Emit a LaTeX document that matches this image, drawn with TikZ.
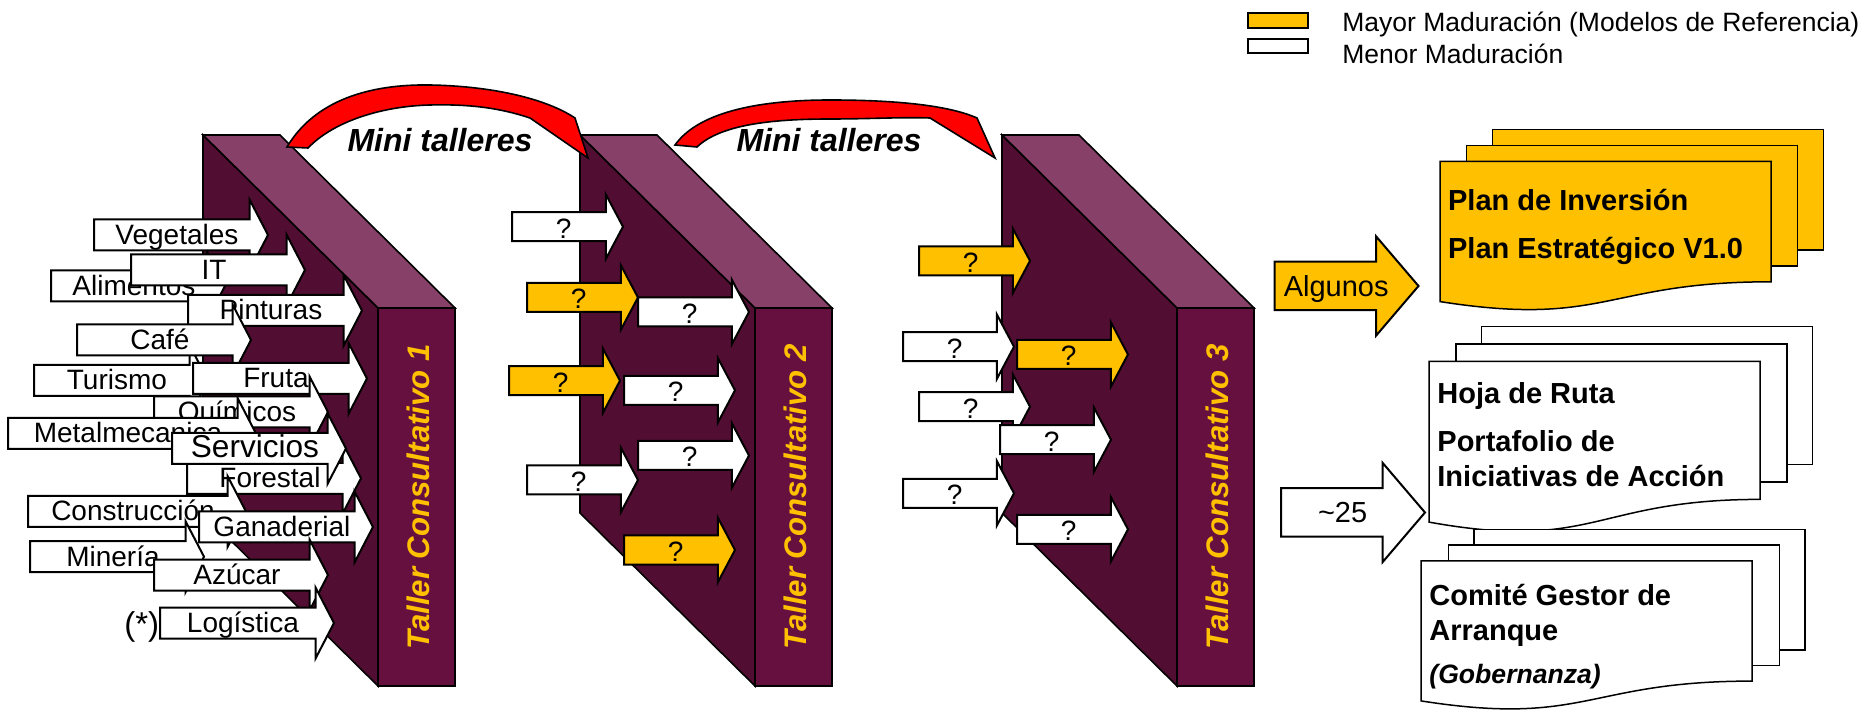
\documentclass[tikz,border=0pt]{standalone}
\usepackage{fontspec}
\setmainfont{Liberation Sans}
\usetikzlibrary{shapes.arrows}
\definecolor{GoldClr}{HTML}{FFC000}
\definecolor{WallSide}{HTML}{520E32}
\definecolor{WallTop}{HTML}{874068}
\definecolor{WallFront}{HTML}{661040}
\definecolor{ArcClr}{HTML}{FF0000}

\begin{document}
\begin{tikzpicture}[x=0.5pt,y=-0.5pt,
  wallline/.style={draw=black,line width=0.8pt},
  wallname/.style={rotate=90,text=GoldClr,font=\fontsize{15.6pt}{18pt}\selectfont\bfseries\itshape},
  sector/.style={single arrow,draw=black,line width=1pt,fill=white,anchor=tail,
    inner xsep=0pt,inner ysep=0.5pt,text height=11.5pt,text depth=2pt,
    single arrow head extend=10pt,single arrow tip angle=125,minimum height=87pt,
    font=\fontsize{14pt}{16pt}\selectfont},
  quest/.style={single arrow,draw=black,line width=1pt,anchor=tail,
    inner xsep=0pt,inner ysep=0.5pt,text height=12pt,text depth=0.5pt,
    single arrow head extend=8.75pt,single arrow tip angle=124,minimum height=55.5pt,
    font=\fontsize{14pt}{16pt}\selectfont},
  bigarrow/.style={single arrow,draw=black,line width=1pt,anchor=tail,
    inner xsep=0pt,inner ysep=3.4pt,text height=13.45pt,text depth=3pt,
    single arrow head extend=12.75pt,single arrow tip angle=99,minimum height=72pt,
    font=\fontsize{14.5pt}{17pt}\selectfont},
  arcarrow/.style={fill=ArcClr,draw=black,line width=0.8pt},
  docpage/.style={draw=black,line width=0.75pt},
  doctext/.style={anchor=base west,inner sep=0pt,font=\fontsize{14.5pt}{17pt}\selectfont\bfseries},
  mini/.style={anchor=base,inner sep=0pt,font=\fontsize{16pt}{18pt}\selectfont\bfseries\itshape},
  legend/.style={anchor=base west,inner sep=0pt,font=\fontsize{13.25pt}{15pt}\selectfont}]

\useasboundingbox (0,0) rectangle (1864,721);

% the three walls
\foreach \X [count=\i] in {203,580,1002}{
  \filldraw[wallline,fill=WallSide] (\X,135) -- (\X+175,308) -- (\X+175,686) -- (\X,513) -- cycle;
  \filldraw[wallline,fill=WallTop] (\X,135) -- (\X+77,135) -- (\X+252,308) -- (\X+175,308) -- cycle;
  \filldraw[wallline,fill=WallFront] (\X+175,308) rectangle (\X+252,686);
  \node[wallname] (taller\i) at (\X+215,497) {Taller Consultativo \i};
}

% red arcs
\filldraw[arcarrow] (287,147) .. controls (315,100) and (370,84) .. (430,85)
  .. controls (490,86) and (545,98) .. (575,118) -- (588,158) -- (530,118)
  .. controls (500,108) and (470,104) .. (430,105)
  .. controls (385,106) and (335,120) .. (308,148) -- cycle;
\filldraw[arcarrow] (675,145) .. controls (700,110) and (765,100) .. (830,100)
  .. controls (900,100) and (950,106) .. (977,118) -- (995,158) -- (930,118)
  .. controls (900,117) and (870,119) .. (830,119)
  .. controls (770,119) and (720,125) .. (697,147) -- cycle;
\node[mini] (mini1) at (440,151.7) {Mini talleres};
\node[mini] (mini2) at (829,151.7) {Mini talleres};

% sectors into taller 1
\node[sector] (ali) at (50,286) {Alimentos};
\node[sector] (veg) at (93,235) {Vegetales};
\node[sector] (it) at (130,270) {IT};
\node[sector] (pint) at (187,310.5) {Pinturas};
\node[sector] (tur) at (33,380.5) {Turismo};
\node[sector] (cafe) at (76,340) {Café};
\node[sector] (fruta) at (192,378.5) {Fruta};
\node[sector] (quim) at (153,412) {Químicos};
\node[sector,minimum height=124pt] (metal) at (7,433.5) {Metalmecanica};
\node[sector] (fore) at (186,478.3) {Forestal};
\node[sector,font=\fontsize{15.8pt}{18pt}\selectfont] (serv) at (171,448.5) {Servicios};
\node[sector,minimum height=109pt] (constr) at (27,511.5) {Construcción};
\node[sector] (mine) at (29,556.7) {Minería};
\node[sector] (gan) at (198,527) {Ganaderial};
\node[sector] (azu) at (153,575) {Azúcar};
\node[sector] (logi) at (159,623) {Logística};
\node[inner sep=0pt,font=\fontsize{16.5pt}{19pt}\selectfont] (nota) at (141.7,626.7) {(*)};

% question arrows, taller 2 and 3
\foreach \n/\x/\y/\c in {qa/511/226.7/white,qb/526/297.5/GoldClr,qc/637/312/white,
    qd/508/380.7/GoldClr,qe/623/390.3/white,qf/637/455.5/white,qg/526/480/white,
    qh/623/550/GoldClr,ra/918/260.8/GoldClr,rb/902/346.7/white,rc/1016/354.5/GoldClr,
    rd/918/406.7/white,re/999/439.7/white,rf/902/493.3/white,rg/1016/529.3/white}
  \node[quest,fill=\c] (\n) at (\x,\y) {?};

% results
\node[bigarrow,fill=GoldClr] (algunos) at (1273.5,286) {Algunos};
\node[bigarrow,fill=white] (veinte) at (1280,512.5) {\textasciitilde25};

\filldraw[docpage,fill=GoldClr] (1492.5,129.5) rectangle (1823.5,249.8);
\filldraw[docpage,fill=GoldClr] (1466.5,145.5) rectangle (1797.5,265.8);
\filldraw[docpage,fill=GoldClr] (1440,161.5) -- (1771,161.5) -- (1771,281.8)
  .. controls (1605.5,281.8) and (1605.5,327.6) .. (1440,301.6) -- cycle;
\node[doctext] (inv) at (1447.7,210.4) {Plan de Inversión};
\node[doctext] (estr) at (1447.7,258.6) {Plan Estratégico V1.0};

\filldraw[docpage,fill=white] (1481.5,326.5) rectangle (1812.5,464.4);
\filldraw[docpage,fill=white] (1456,344) rectangle (1787,481.9);
\filldraw[docpage,fill=white] (1429,361.5) -- (1760,361.5) -- (1760,499.4)
  .. controls (1594.5,499.4) and (1594.5,552) .. (1429,522.1) -- cycle;
\node[doctext] (hoja) at (1437,403.4) {Hoja de Ruta};
\node[doctext] (porta) at (1437,451.2) {Portafolio de};
\node[doctext] (inic) at (1437,486.5) {Iniciativas de Acción};

\filldraw[docpage,fill=white] (1474,529.5) rectangle (1805,650);
\filldraw[docpage,fill=white] (1448.5,545) rectangle (1779.5,665.3);
\filldraw[docpage,fill=white] (1421,560.8) -- (1752,560.8) -- (1752,681.1)
  .. controls (1586.5,681.1) and (1586.5,726.9) .. (1421,700.9) -- cycle;
\node[doctext] (comite) at (1429,605.9) {Comité Gestor de};
\node[doctext] (arranque) at (1429,640.3) {Arranque};
\node[doctext,font=\fontsize{13.3pt}{16pt}\selectfont\bfseries\itshape] (gob) at (1429,683.4) {(Gobernanza)};

% legend
\filldraw[draw=black,line width=1pt,fill=GoldClr] (1247.5,13.5) rectangle (1308,28.3);
\filldraw[draw=black,line width=1pt,fill=white] (1247.5,39) rectangle (1308,53.3);
\node[legend] (mayor) at (1342,31.7) {Mayor Maduración (Modelos de Referencia)};
\node[legend] (menor) at (1342,63.3) {Menor Maduración};

\end{tikzpicture}
\end{document}
